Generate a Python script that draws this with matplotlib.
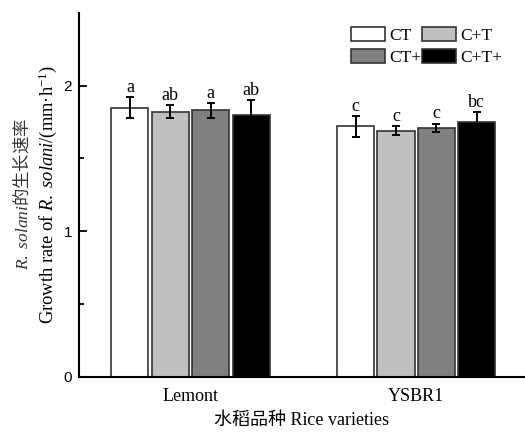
import numpy as np
import matplotlib
matplotlib.use("Agg")
import matplotlib.pyplot as plt

plt.rcParams['mathtext.fontset'] = 'custom'
plt.rcParams['mathtext.rm'] = 'Liberation Serif'
plt.rcParams['mathtext.it'] = 'Liberation Serif:italic'

varieties = ['Lemont', 'YSBR1']
treatments = ['CT', 'C+T', 'CT+', 'C+T+']
colors = ['#ffffff', '#c0c0c0', '#808080', '#000000']

# rows: treatment, cols: variety
means = [[1.85, 1.72],
         [1.82, 1.69],
         [1.83, 1.71],
         [1.80, 1.75]]
errs = [[0.07, 0.07],
        [0.045, 0.03],
        [0.05, 0.03],
        [0.10, 0.07]]
letters = [['a', 'c'],
           ['ab', 'c'],
           ['a', 'c'],
           ['ab', 'bc']]

serif = 'Liberation Serif'

fig = plt.figure(figsize=(5.25, 4.32), dpi=100)
ax = fig.add_axes([79/525, 1-376.7/432, 446/525, (376.7-13)/432])

x = np.arange(len(varieties))
step = 0.179
width = 0.164
bars = []
for i, t in enumerate(treatments):
    pos = x + (i - 1.5) * step
    b = ax.bar(pos, means[i], width, color=colors[i], edgecolor='#333333',
               linewidth=1.2, label=t, zorder=2)
    bars.append(b)
    ax.errorbar(pos, means[i], yerr=errs[i], fmt='none', ecolor='black',
                elinewidth=1.4, capsize=3, capthick=1.4, zorder=3)
    for j in range(len(varieties)):
        ax.annotate(letters[i][j], (pos[j], means[i][j] + errs[i][j]),
                    xytext=(0, 1), textcoords='offset points',
                    ha='center', va='bottom', fontsize=13, family=serif)

ax.set_xlim(-0.494, 1.482)
ax.set_ylim(0, 2.5)
ax.set_yticks([0, 1, 2])
ax.set_yticks([0.5, 1.5], minor=True)
ax.set_xticks(x)
ax.set_xticklabels(varieties, fontsize=13, family=serif)
ax.tick_params(axis='x', length=0, pad=8)
ax.tick_params(axis='y', which='major', direction='in', length=6, width=1.3,
               labelsize=11, pad=5)
ax.tick_params(axis='y', which='minor', direction='in', length=3.5, width=1.3)
for lab in ax.get_yticklabels():
    lab.set_family('Liberation Sans')
for s in ['top', 'right']:
    ax.spines[s].set_visible(False)
for s in ['left', 'bottom']:
    ax.spines[s].set_linewidth(1.5)

ax.set_xlabel('水稻品种 Rice varieties', fontsize=13,
              family=[serif, 'Noto Sans CJK SC'], labelpad=5)

fig.text(22/525, 1-194/432, r'$\mathit{R.\ solani}$的生长速率',
         rotation=90, ha='center', va='center', fontsize=12.5,
         family='Noto Sans CJK SC', color='#333333')
fig.text(48/525, 1-194/432,
         r'Growth rate of $\mathit{R.\ solani}$/(mm·h$^{-1}$)',
         rotation=90, ha='center', va='center', fontsize=13.3, family=serif)

# row-wise order: CT, C+T / CT+, C+T+
order = [0, 2, 1, 3]
ax.legend([bars[k] for k in order], [treatments[k] for k in order],
          ncol=2, loc='upper left', bbox_to_anchor=(351/525, 1-27/432),
          bbox_transform=fig.transFigure, frameon=False,
          prop={'family': serif, 'size': 12.5}, handlelength=1.95,
          handleheight=0.85, handletextpad=0.25, columnspacing=0.05,
          labelspacing=0.3, borderpad=0, borderaxespad=0)

fig.savefig('out.png', dpi=100)
